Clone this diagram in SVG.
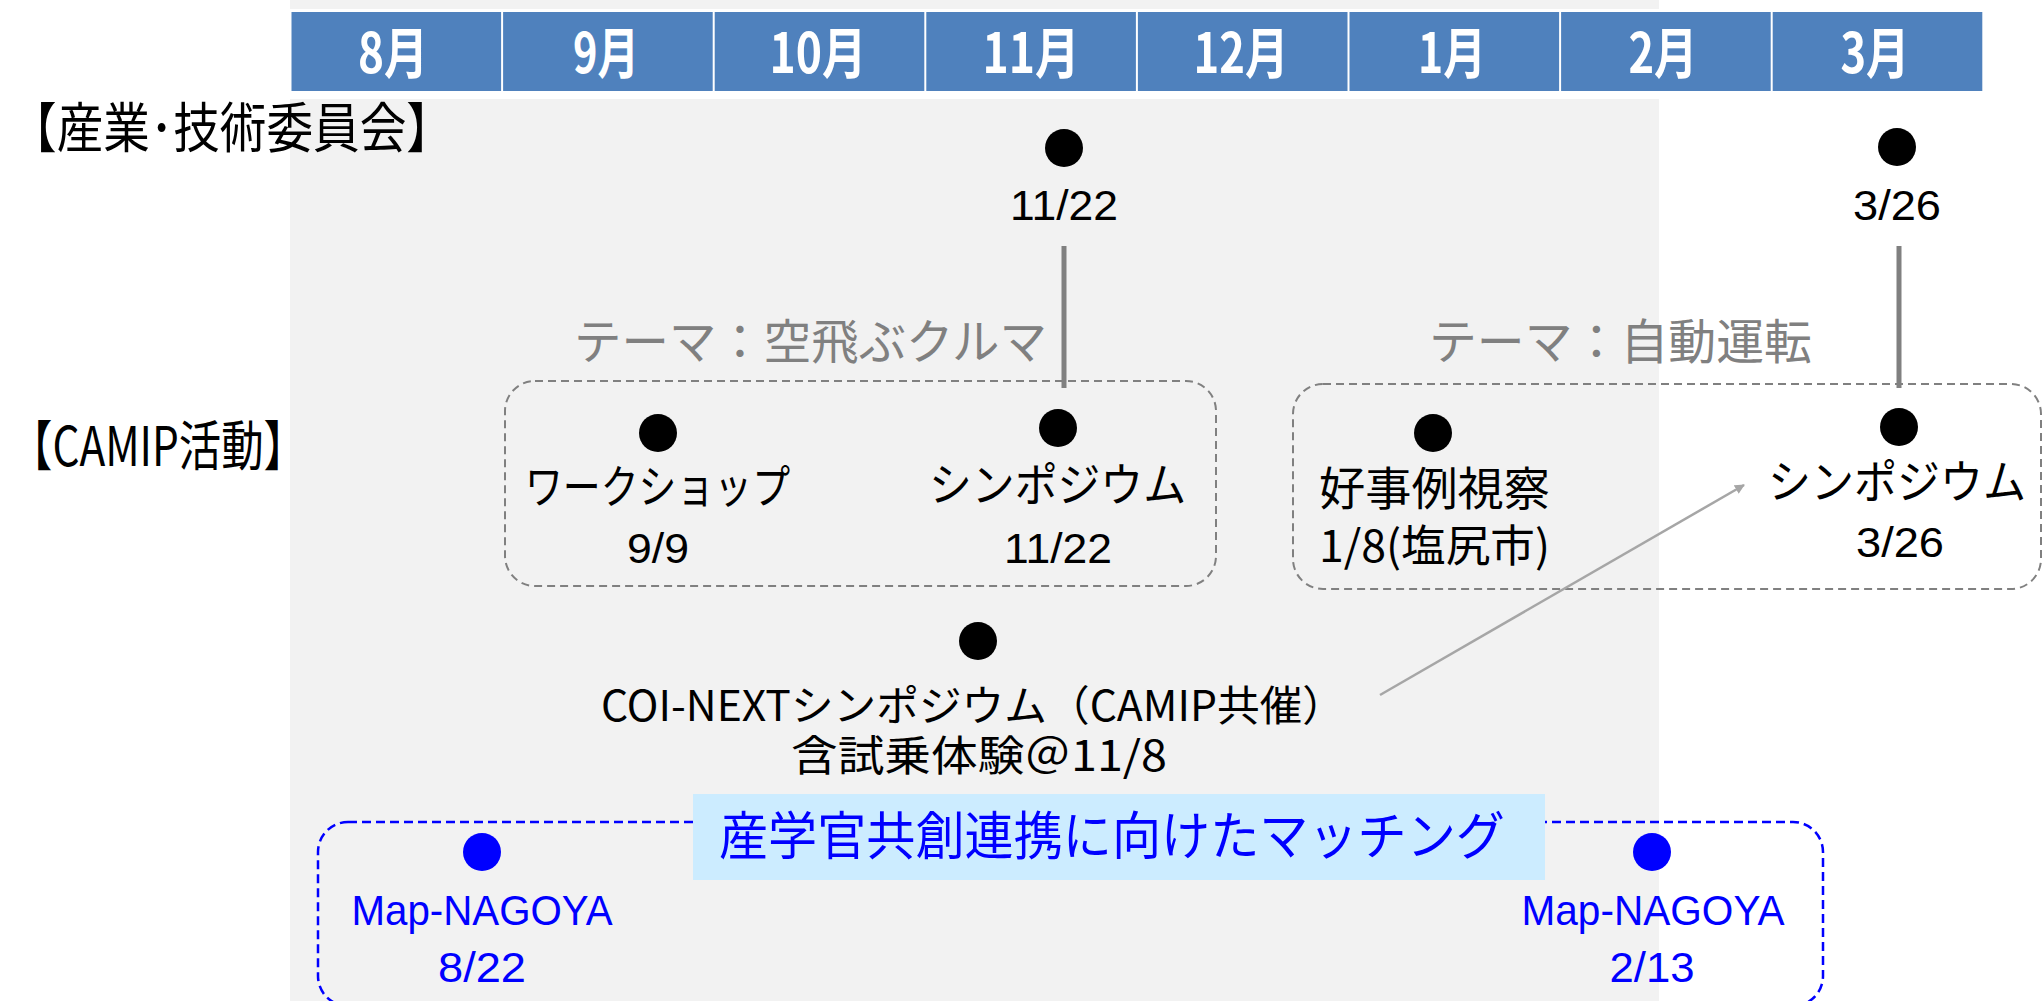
<svg xmlns="http://www.w3.org/2000/svg" width="2044" height="1001" viewBox="0 0 2044 1001">
<defs>
<style>
.jp{font-family:"Noto Sans CJK JP","Noto Sans",sans-serif;}
.lat{font-family:"Liberation Sans","Noto Sans CJK JP",sans-serif;}
.mon{font-family:"Noto Sans CJK JP",sans-serif;font-weight:bold;font-size:55px;fill:#FFFFFF;text-anchor:middle;}
.cell{fill:#4F81BD;}
.blk{fill:#000000;}
.gry{fill:#808080;}
.blu{fill:#0000FF;}
.gbox{fill:none;stroke:#808080;stroke-width:2;stroke-dasharray:8 5;}
.bbox{fill:none;stroke:#0000FF;stroke-width:2.5;stroke-dasharray:9 5;}
.vline{stroke:#808080;stroke-width:5;fill:none;}
.arr{stroke:#A6A6A6;stroke-width:2.5;fill:none;}
</style>
<marker id="ah" markerWidth="10" markerHeight="10" refX="9" refY="5" orient="auto" markerUnits="userSpaceOnUse" viewBox="0 0 10 10">
<path d="M0,0 L10,5 L0,10 z" fill="#A6A6A6"/>
</marker>
</defs>
<rect width="2044" height="1001" fill="#FFFFFF"/>
<rect x="290" y="0" width="1369" height="1001" fill="#F2F2F2"/>
<rect x="290" y="9" width="1369" height="90" fill="#FFFFFF"/>

<g id="header">
<rect class="cell" x="291.5" y="12" width="209.6" height="79"/>
<rect class="cell" x="503.1" y="12" width="209.6" height="79"/>
<rect class="cell" x="714.7" y="12" width="209.6" height="79"/>
<rect class="cell" x="926.3" y="12" width="209.6" height="79"/>
<rect class="cell" x="1137.9" y="12" width="209.6" height="79"/>
<rect class="cell" x="1349.5" y="12" width="209.6" height="79"/>
<rect class="cell" x="1561.1" y="12" width="209.6" height="79"/>
<rect class="cell" x="1772.7" y="12" width="209.6" height="79"/>
<text class="mon" x="393" y="73" textLength="70" lengthAdjust="spacingAndGlyphs">8月</text>
<text class="mon" x="606" y="73" textLength="66" lengthAdjust="spacingAndGlyphs">9月</text>
<text class="mon" x="818" y="73" textLength="97" lengthAdjust="spacingAndGlyphs">10月</text>
<text class="mon" x="1031" y="73" textLength="97" lengthAdjust="spacingAndGlyphs">11月</text>
<text class="mon" x="1241" y="73" textLength="95" lengthAdjust="spacingAndGlyphs">12月</text>
<text class="mon" x="1452" y="73" textLength="68" lengthAdjust="spacingAndGlyphs">1月</text>
<text class="mon" x="1663" y="73" textLength="69" lengthAdjust="spacingAndGlyphs">2月</text>
<text class="mon" x="1875" y="73" textLength="69" lengthAdjust="spacingAndGlyphs">3月</text>
</g>

<g id="row-labels">
<text class="jp blk" x="10" y="148" font-size="54" textLength="443" lengthAdjust="spacingAndGlyphs">【産業･技術委員会】</text>
<text class="jp blk" x="10" y="466" font-size="54" textLength="296" lengthAdjust="spacingAndGlyphs">【CAMIP活動】</text>
</g>

<g id="theme-labels">
<text class="jp gry" x="574" y="359" font-size="48" textLength="473" lengthAdjust="spacingAndGlyphs">テーマ：空飛ぶクルマ</text>
<text class="jp gry" x="1429" y="359" font-size="48" textLength="383" lengthAdjust="spacingAndGlyphs">テーマ：自動運転</text>
</g>

<g id="group-flying-car">
<rect class="gbox" x="505" y="381" width="711" height="205" rx="30" ry="30"/>
</g>
<g id="group-autodrive">
<rect class="gbox" x="1293" y="384" width="748" height="205" rx="30" ry="30"/>
</g>
<g id="group-matching">
<rect class="bbox" x="318" y="822" width="1505" height="184" rx="30" ry="30"/>
</g>

<g id="connectors">
<line class="vline" x1="1064" y1="246" x2="1064" y2="388"/>
<line class="vline" x1="1899" y1="246" x2="1899" y2="388"/>
<line class="arr" x1="1380" y1="695" x2="1744" y2="485" marker-end="url(#ah)"/>
</g>

<g id="committee-1122">
<circle cx="1064" cy="148" r="19" fill="#000"/>
<text class="lat blk" x="1064" y="220" font-size="42" text-anchor="middle" textLength="108" lengthAdjust="spacingAndGlyphs">11/22</text>
</g>
<g id="committee-326">
<circle cx="1897" cy="147" r="19" fill="#000"/>
<text class="lat blk" x="1897" y="220" font-size="42" text-anchor="middle" textLength="88" lengthAdjust="spacingAndGlyphs">3/26</text>
</g>

<g id="workshop">
<circle cx="658" cy="433" r="19" fill="#000"/>
<text class="jp blk" x="525" y="503" font-size="46" textLength="265" lengthAdjust="spacingAndGlyphs">ワークショップ</text>
<text class="lat blk" x="658" y="563" font-size="42" text-anchor="middle" textLength="62" lengthAdjust="spacingAndGlyphs">9/9</text>
</g>
<g id="symposium-1122">
<circle cx="1058" cy="428" r="19" fill="#000"/>
<text class="jp blk" x="929" y="501" font-size="46" textLength="257" lengthAdjust="spacingAndGlyphs">シンポジウム</text>
<text class="lat blk" x="1058" y="563" font-size="42" text-anchor="middle" textLength="108" lengthAdjust="spacingAndGlyphs">11/22</text>
</g>
<g id="site-visit">
<circle cx="1433" cy="433" r="19" fill="#000"/>
<text class="jp blk" x="1319" y="505" font-size="46" textLength="231" lengthAdjust="spacingAndGlyphs">好事例視察</text>
<text class="jp blk" x="1319" y="562" font-size="44" textLength="231" lengthAdjust="spacingAndGlyphs">1/8(塩尻市)</text>
</g>
<g id="symposium-326">
<circle cx="1899" cy="427" r="19" fill="#000"/>
<text class="jp blk" x="1768" y="498" font-size="46" textLength="258" lengthAdjust="spacingAndGlyphs">シンポジウム</text>
<text class="lat blk" x="1900" y="557" font-size="42" text-anchor="middle" textLength="88" lengthAdjust="spacingAndGlyphs">3/26</text>
</g>
<g id="coi-next">
<circle cx="978" cy="641" r="19" fill="#000"/>
<text class="jp blk" x="601" y="721" font-size="42" textLength="744" lengthAdjust="spacingAndGlyphs">COI-NEXTシンポジウム（CAMIP共催）</text>
<text class="jp blk" x="791" y="771" font-size="42" textLength="376" lengthAdjust="spacingAndGlyphs">含試乗体験＠11/8</text>
</g>

<g id="matching-banner">
<rect x="693" y="794" width="852" height="86" fill="#CCECFF"/>
<text class="jp blu" x="719" y="855" font-size="52" textLength="786" lengthAdjust="spacingAndGlyphs">産学官共創連携に向けたマッチング</text>
</g>
<g id="map-nagoya-822">
<circle cx="482" cy="852" r="19" fill="#0000FF"/>
<text class="lat blu" x="482" y="925" font-size="42" text-anchor="middle" textLength="261" lengthAdjust="spacingAndGlyphs">Map-NAGOYA</text>
<text class="lat blu" x="482" y="982" font-size="42" text-anchor="middle" textLength="88" lengthAdjust="spacingAndGlyphs">8/22</text>
</g>
<g id="map-nagoya-213">
<circle cx="1652" cy="852" r="19" fill="#0000FF"/>
<text class="lat blu" x="1653" y="925" font-size="42" text-anchor="middle" textLength="263" lengthAdjust="spacingAndGlyphs">Map-NAGOYA</text>
<text class="lat blu" x="1652" y="982" font-size="42" text-anchor="middle" textLength="85" lengthAdjust="spacingAndGlyphs">2/13</text>
</g>
</svg>
